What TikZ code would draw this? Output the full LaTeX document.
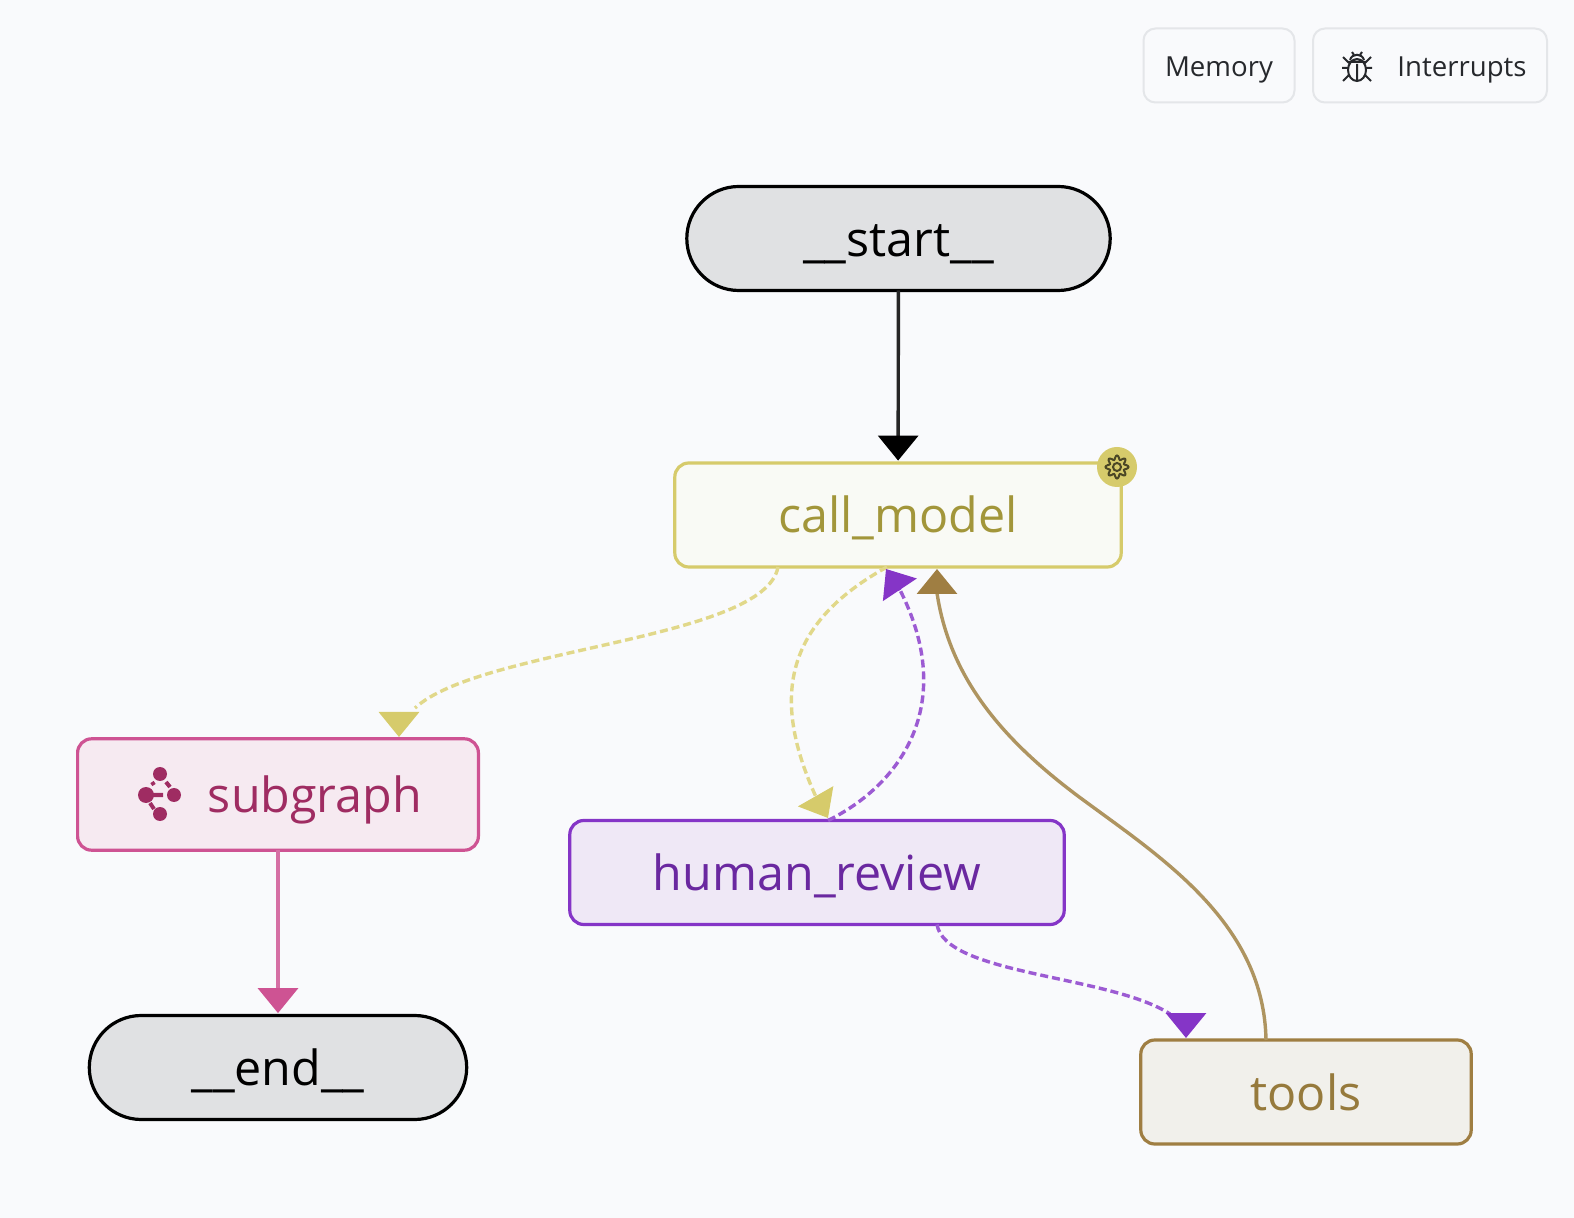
\documentclass[tikz,border=0pt]{standalone}
\usepackage{fontspec}
\setmainfont{Open Sans}
\usetikzlibrary{arrows.meta}

\definecolor{pagebg}{HTML}{F9FAFC}
\definecolor{btnline}{HTML}{E4E6E9}
\definecolor{btntext}{HTML}{26282C}
\definecolor{pillfill}{HTML}{E0E1E3}
\definecolor{modelline}{HTML}{D6CB6B}
\definecolor{modeledge}{HTML}{E1D88A}
\definecolor{modelfill}{HTML}{F9FAF5}
\definecolor{modeltext}{HTML}{A2963A}
\definecolor{subline}{HTML}{CE5393}
\definecolor{subedge}{HTML}{D56FA4}
\definecolor{subfill}{HTML}{F6EAF1}
\definecolor{subtext}{HTML}{9F2C62}
\definecolor{humanline}{HTML}{8535C7}
\definecolor{humanedge}{HTML}{9C5BD3}
\definecolor{humanfill}{HTML}{EFE8F6}
\definecolor{humantext}{HTML}{6A28A0}
\definecolor{toolline}{HTML}{9F7E42}
\definecolor{tooledge}{HTML}{AE9460}
\definecolor{toolfill}{HTML}{F1F0EB}
\definecolor{tooltext}{HTML}{967A3C}

\begin{document}
\begin{tikzpicture}[x=0.5pt,y=-0.5pt,line width=1.7pt,
  main node/.style={draw,rectangle,rounded corners=7pt,inner sep=0pt,outer sep=0pt,line width=1.6pt,
    minimum height=52pt,text height=20pt,text depth=2pt,font=\fontsize{24.2}{28}\selectfont},
  pill node/.style={main node,fill=pillfill,draw=black,rounded corners=26pt,text=black},
  button node/.style={draw=btnline,rectangle,rounded corners=6pt,line width=1pt,inner sep=0pt,outer sep=0pt,
    minimum height=37pt,text=btntext,text height=13pt,text depth=1.5pt,font=\fontsize{13.8}{18}\selectfont},
  head/.style={-{Triangle[length=12.5pt,width=20pt,color=#1]},solid},
  dash edge/.style={dash pattern=on 4pt off 2pt}]

  \useasboundingbox[fill=pagebg] (0,0) rectangle (1574,1218);

  \node[button node,minimum width=75.5pt] (memory) at (1219,65.5) {Memory};
  \node[button node,minimum width=117pt] (interrupts) at (1430,65.5) {\hspace*{32pt}Interrupts};

  \node[pill node,minimum width=211.7pt] (start) at (898.5,238.5) {\_\_start\_\_};
  \node[main node,minimum width=223.2pt,draw=modelline,fill=modelfill,text=modeltext] (model) at (898,515) {call\_model};
  \node[main node,minimum width=200.4pt,minimum height=55.7pt,draw=subline,fill=subfill,text=subtext] (subgraph) at (278,794.5) {\hspace*{37pt}subgraph};
  \node[main node,minimum width=247.2pt,draw=humanline,fill=humanfill,text=humantext] (human) at (817,872.5) {human\_review};
  \node[main node,minimum width=165.2pt,draw=toolline,fill=toolfill,text=tooltext] (tools) at (1306,1092) {tools};
  \node[pill node,minimum width=188.7pt] (end) at (278,1067.5) {\_\_end\_\_};

  % ends of the curved edges
  \coordinate (subtail) at (415,708);
  \coordinate (subbase) at (399,712);
  \coordinate (subtip) at (399,737);
  \coordinate (reviewbase) at (816,797);
  \coordinate (reviewtip) at (828,818);
  \coordinate (backbase) at (900,590);
  \coordinate (backtip) at (886,569);
  \coordinate (toolbase) at (1186,1013);
  \coordinate (tooltail) at (1170,1014);
  \coordinate (tooltip) at (1186,1038);
  \coordinate (loopbase) at (937,593);
  \coordinate (looptip) at (937,569);

  % straight edges
  \draw[head=black,draw=black!85,shorten >=1.2pt] (start) -- (model);
  \draw[head=subline,draw=subedge,shorten >=1.2pt] (subgraph) -- (end);

  % call_model to subgraph
  \draw[dash edge,draw=modeledge] ([xshift=-60pt]model.south) .. controls (765,640) and (480,648) .. (subtail);
  \draw[head=modelline,draw=modelline] (subbase) -- (subtip);

  % call_model and human_review
  \draw[dash edge,draw=modeledge] ([xshift=-5.5pt]model.south) .. controls (782,625) and (772,700) .. (reviewbase);
  \draw[head=modelline,draw=modelline] (reviewbase) -- (reviewtip);
  \draw[dash edge,draw=humanedge] ([xshift=5.5pt]human.north) .. controls (900,785) and (958,705) .. (backbase);
  \draw[head=humanline,draw=humanline] (backbase) -- (backtip);

  % human_review to tools
  \draw[dash edge,draw=humanedge] ([xshift=60pt]human.south) .. controls (945,975) and (1110,975) .. (tooltail);
  \draw[head=humanline,draw=humanline] (toolbase) -- (tooltip);

  % tools back to call_model
  \draw[draw=tooledge] ([xshift=-20pt]tools.north) .. controls (1264,925) and (1165,860) .. (1086,802)
    .. controls (1005,743) and (950,680) .. (loopbase);
  \draw[head=toolline,draw=toolline] (loopbase) -- (looptip);

  % gear badge
  \fill[modelline] (1117,467) circle (20);
  \draw[shift={(1117,467)},line width=1pt,draw=black!65!modelline] plot[smooth cycle,samples=64,domain=0:354.375] (\x:{9.5+2*cos(8*\x)});
  \draw[line width=1pt,draw=black!65!modelline] (1117,467) circle (4);

  % subgraph icon
  \fill[subtext] (160,774) circle (7) (160,814) circle (7) (174,795) circle (7) (146,795) circle (8);
  \draw[subtext,line width=2pt] (146,795) -- (163,795) (152,782) -- (154,785) (166,782) -- (170,787) (150,803) -- (154,809);

  % bug icon
  \draw[btntext,line width=1pt] (1357,70) ellipse (9 and 11) (1357,64) -- (1357,80)
    (1348,62) -- (1366,62) (1350,60) .. controls (1352,53) and (1362,53) .. (1364,60)
    (1352,52) -- (1354,55) (1362,52) -- (1360,55)
    (1342,68) -- (1348,68) (1366,68) -- (1372,68) (1343,57) -- (1349,63) (1371,57) -- (1365,63)
    (1343,81) -- (1349,75) (1371,81) -- (1365,75);
\end{tikzpicture}
\end{document}
